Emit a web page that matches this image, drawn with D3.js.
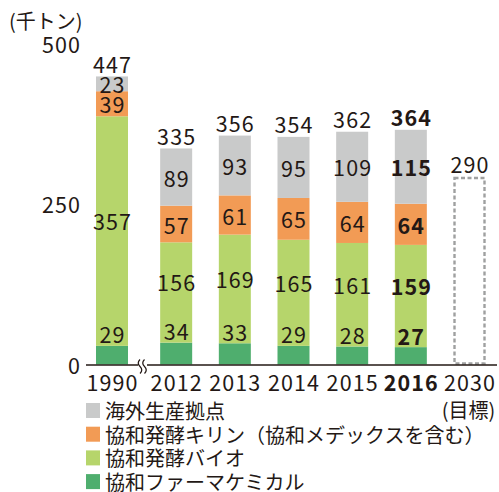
<!DOCTYPE html>
<html><head><meta charset="utf-8">
<script src="https://cdn.jsdelivr.net/npm/d3@7"></script>
<style>
html,body{margin:0;padding:0;background:#fff;}
text{font-family:"Noto Sans CJK JP","Noto Sans",sans-serif;fill:#231815;}
.num{letter-spacing:1.1px;}
</style></head>
<body>
<svg id="chart" width="499" height="492"></svg>
<script>
const years = ['1990','2012','2013','2014','2015','2016','2030'];
const overseas = [23, 89, 93, 95, 109, 115];
const kirin    = [39, 57, 61, 65, 64, 64];
const bio      = [357, 156, 169, 165, 161, 159];
const pharma   = [29, 34, 33, 29, 28, 27];
const totals   = [447, 335, 356, 354, 362, 364];
const target2030 = 290;
const yTicks = [0, 250, 500];
const unitLabel = '(千トン)';
const targetNote = '(目標)';
const seriesNames = ['海外生産拠点','協和発酵キリン（協和メデックスを含む）','協和発酵バイオ','協和ファーマケミカル'];
const colors = {overseas:'#c9caca', kirin:'#f29b55', bio:'#b6d56b', pharma:'#4fae6e'};
const boldYear = '2016';

const svg = d3.select('#chart');
const y = d3.scaleLinear().domain([0, 500]).range([364.5, 43]);
const xp = d3.scalePoint().domain(years).range([117.5, 469.5]);
const breakShift = {'1990': -5.5};
const xc = d => xp(d) + (breakShift[d] || 0);
const bw = 32;

// y tick labels
svg.append('g').selectAll('text').data(yTicks).join('text').attr('class','num')
  .attr('x', 81).attr('y', d => y(d)).attr('text-anchor','end')
  .attr('dominant-baseline','central').style('font-size','21.5px').text(d => d);
svg.append('text').attr('x', 9).attr('y', 29).style('font-size','20px').text(unitLabel);

// stacked data
const rows = years.slice(0, 6).map((yr, i) => ({year: yr, pharma: pharma[i], bio: bio[i], kirin: kirin[i], overseas: overseas[i], total: totals[i]}));
const keys = ['pharma','bio','kirin','overseas'];
const stack = d3.stack().keys(keys)(rows);

const gBars = svg.append('g');
stack.forEach(layer => {
  gBars.selectAll(null).data(layer).join('rect')
    .attr('x', d => xc(d.data.year) - bw/2)
    .attr('y', d => y(d[1]))
    .attr('width', bw)
    .attr('height', d => y(d[0]) - y(d[1]))
    .attr('fill', colors[layer.key]);
});

// target dashed bar
svg.append('rect')
  .attr('x', xc('2030') - bw/2 + 1).attr('y', y(target2030))
  .attr('width', bw - 2).attr('height', y(0) - y(target2030) - 1)
  .attr('fill','none').attr('stroke','#9fa0a0').attr('stroke-width',2.4)
  .attr('stroke-dasharray','4,2.5');

// labels
const fw = yr => yr === boldYear ? 700 : 400;
const lab = svg.append('g').style('font-size','21.5px').attr('text-anchor','middle');
const addNum = (x, yy, txt, w, base) => lab.append('text').attr('class','num')
  .attr('x', x + 0.5).attr('y', yy).attr('dominant-baseline', base || 'auto')
  .style('font-weight', w).text(txt);
stack.forEach(layer => {
  layer.forEach(d => {
    const yr = d.data.year;
    if (layer.key === 'pharma') addNum(xc(yr), y(d[1]) - 2.5, d.data[layer.key], fw(yr));
    else if (layer.key === 'bio') addNum(xc(yr), (y(d[1]) + y(d[0]) - 19) / 2 - 1, d.data[layer.key], fw(yr), 'central');
    else addNum(xc(yr), (y(d[0]) + y(d[1])) / 2, d.data[layer.key], fw(yr), 'central');
  });
});
rows.forEach(r => addNum(xc(r.year), y(r.total) - 4, r.total, fw(r.year)));
addNum(xc('2030'), y(target2030) - 5, target2030, 400);

// x axis line with break
svg.append('line').attr('x1', 86).attr('x2', 497).attr('y1', y(0)+0.5).attr('y2', y(0)+0.5)
  .attr('stroke','#231815').attr('stroke-width',1.5);
svg.append('rect').attr('x', 138).attr('y', y(0)-5).attr('width', 9).attr('height', 12).attr('fill','#fff');
[140, 144.5].forEach(bx => {
  svg.append('path').attr('d', `M${bx},${y(0)-5} c-2.5,2.5 -2.5,4.5 0,7 s2.5,4.5 0,7`)
    .attr('fill','none').attr('stroke','#231815').attr('stroke-width',1.2);
});

// x labels
svg.append('g').selectAll('text').data(years).join('text').attr('class','num')
  .attr('x', d => xc(d) + 0.5).attr('y', 391).attr('text-anchor','middle')
  .style('font-size','21.5px').style('font-weight', d => fw(d)).text(d => d);
svg.append('text').attr('x', xc('2030')-1).attr('y', 418).attr('text-anchor','middle')
  .style('font-size','20px').text(targetNote);

// legend
const legColors = [colors.overseas, colors.kirin, colors.bio, colors.pharma];
const leg = svg.append('g');
seriesNames.forEach((n, i) => {
  const cy = 410.5 + i * 23.7;
  leg.append('rect').attr('x', 86).attr('y', cy - 7.5).attr('width', 14).attr('height', 15).attr('fill', legColors[i]);
  leg.append('text').attr('x', 105).attr('y', cy).attr('dominant-baseline','central')
    .style('font-size','20px').text(n);
});
</script>
</body></html>
